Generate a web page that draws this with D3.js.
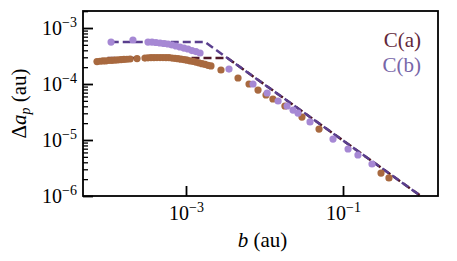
<!DOCTYPE html>
<html>
<head>
<meta charset="utf-8">
<script src="https://cdn.jsdelivr.net/npm/d3@7"></script>
<style>
  body { margin: 0; background: #fff; }
  svg text { font-family: "Liberation Serif", "DejaVu Serif", serif; }
</style>
</head>
<body>
<div id="chart"></div>
<script>
// C(a) measured points
var bA = [7.35e-5, 8.03e-5, 8.76e-5, 9.57e-5, 1.045e-4, 1.14e-4, 1.25e-4, 1.36e-4, 1.49e-4, 1.62e-4,
  1.77e-4, 1.94e-4, 2.38e-4, 3.00e-4, 3.28e-4, 3.58e-4, 3.91e-4, 4.27e-4, 4.67e-4, 5.09e-4,
  5.56e-4, 6.07e-4, 6.63e-4, 7.24e-4, 7.91e-4, 8.64e-4, 9.43e-4, 1.03e-3, 1.12e-3, 1.23e-3,
  1.34e-3, 1.46e-3, 1.60e-3, 1.75e-3, 1.91e-3, 2.08e-3, 2.79e-3, 4.60e-3, 6.35e-3, 8.27e-3,
  1.045e-2, 1.28e-2, 1.82e-2, 3.00e-2, 4.95e-2, 0.305, 0.385];
var daA = [2.52e-4, 2.55e-4, 2.58e-4, 2.60e-4, 2.63e-4, 2.65e-4, 2.68e-4, 2.70e-4, 2.73e-4, 2.75e-4,
  2.77e-4, 2.80e-4, 2.85e-4, 2.91e-4, 2.94e-4, 2.95e-4, 2.96e-4, 2.97e-4, 2.97e-4, 2.97e-4,
  2.96e-4, 2.95e-4, 2.91e-4, 2.88e-4, 2.83e-4, 2.78e-4, 2.73e-4, 2.66e-4, 2.60e-4, 2.53e-4,
  2.47e-4, 2.39e-4, 2.31e-4, 2.24e-4, 2.16e-4, 2.10e-4, 1.78e-4, 1.28e-4, 1.00e-4, 7.81e-5,
  6.36e-5, 5.40e-5, 4.05e-5, 2.57e-5, 1.57e-5, 2.57e-6, 2.10e-6];

// C(b) measured points
var bB = [1.11e-4, 2.11e-4, 3.28e-4, 3.69e-4, 4.15e-4, 4.67e-4, 5.25e-4, 5.90e-4, 6.63e-4, 7.46e-4,
  8.39e-4, 9.43e-4, 1.06e-3, 1.19e-3, 1.34e-3, 1.51e-3, 3.53e-3, 7.14e-3, 1.08e-2, 1.49e-2,
  1.94e-2, 2.31e-2, 2.67e-2, 3.80e-2, 7.46e-2, 0.116, 0.155, 0.234];
var daB = [5.62e-4, 6.11e-4, 5.62e-4, 5.62e-4, 5.51e-4, 5.40e-4, 5.29e-4, 5.18e-4, 4.97e-4, 4.77e-4,
  4.58e-4, 4.39e-4, 4.22e-4, 3.96e-4, 3.80e-4, 3.58e-4, 1.85e-4, 1.00e-4, 6.91e-5, 4.97e-5,
  4.05e-5, 3.43e-5, 3.03e-5, 2.10e-5, 1.04e-5, 6.91e-6, 5.40e-6, 3.73e-6];

// broken power-law models
var modelAb = [1e-4, 3.37e-3, 1];
var modelAda = [2.91e-4, 2.91e-4, 9.8e-7];
var modelBb = [1.1e-4, 1.75e-3, 1];
var modelBda = [5.6e-4, 5.6e-4, 9.8e-7];

var yMajor = [1e-6, 1e-5, 1e-4, 1e-3];
var yMajorExp = ["\u22126", "\u22125", "\u22124", "\u22123"];
var xMajor = [1e-3, 1e-1];
var xMajorExp = ["\u22123", "\u22121"];
var legendNames = ["C(a)", "C(b)"];

var W = 457, H = 261;
var margin = {top: 11, right: 19, bottom: 65, left: 83};

var svg = d3.select("#chart").append("svg")
  .attr("width", W).attr("height", H);

var x = d3.scaleLog()
  .domain([Math.pow(10, -4.312), Math.pow(10, 0.21)])
  .range([margin.left, W - margin.right]);
var y = d3.scaleLog()
  .domain([1e-6, Math.pow(10, -2.696)])
  .range([H - margin.bottom, margin.top]);

svg.append("clipPath").attr("id", "plotclip")
  .append("rect")
  .attr("x", margin.left).attr("y", margin.top)
  .attr("width", W - margin.left - margin.right)
  .attr("height", H - margin.top - margin.bottom);

var plot = svg.append("g").attr("clip-path", "url(#plotclip)");

var line = d3.line()
  .x(function(d) { return x(d[0]); })
  .y(function(d) { return y(d[1]); });

plot.append("path")
  .datum(d3.zip(modelAb, modelAda))
  .attr("d", line)
  .attr("fill", "none")
  .attr("stroke", "#4f1727")
  .attr("stroke-width", 2.5)
  .attr("stroke-dasharray", "8,4");

plot.append("path")
  .datum(d3.zip(modelBb, modelBda))
  .attr("d", line)
  .attr("fill", "none")
  .attr("stroke", "#5a3f8e")
  .attr("stroke-width", 2.5)
  .attr("stroke-dasharray", "8,4");

plot.selectAll(".dotA")
  .data(d3.zip(bA, daA))
  .enter().append("circle")
  .attr("class", "dotA")
  .attr("cx", function(d) { return x(d[0]); })
  .attr("cy", function(d) { return y(d[1]); })
  .attr("r", 3.6)
  .attr("fill", "#a8693f");

plot.selectAll(".dotB")
  .data(d3.zip(bB, daB))
  .enter().append("circle")
  .attr("class", "dotB")
  .attr("cx", function(d) { return x(d[0]); })
  .attr("cy", function(d) { return y(d[1]); })
  .attr("r", 3.6)
  .attr("fill", "#a688d4");

// minor y ticks
var yMinor = [];
[1e-6, 1e-5, 1e-4, 1e-3].forEach(function(p) {
  for (var k = 2; k <= 9; k++) {
    if (p * k <= y.domain()[1]) yMinor.push(p * k);
  }
});

svg.append("g")
  .attr("transform", "translate(" + margin.left + ",0)")
  .call(d3.axisLeft(y).tickValues(yMinor).tickSize(-5).tickFormat(""))
  .call(function(g) { g.select(".domain").remove(); })
  .selectAll("line").attr("stroke", "#000").attr("stroke-width", 1.3);

var yAxisG = svg.append("g")
  .attr("transform", "translate(" + margin.left + ",0)")
  .call(d3.axisLeft(y).tickValues(yMajor).tickSize(-10).tickPadding(6));
yAxisG.select(".domain").remove();
yAxisG.selectAll("line").attr("stroke", "#000").attr("stroke-width", 1.8);

var xAxisG = svg.append("g")
  .attr("transform", "translate(0," + (H - margin.bottom) + ")")
  .call(d3.axisBottom(x).tickValues(xMajor).tickSize(-10).tickPadding(10));
xAxisG.select(".domain").remove();
xAxisG.selectAll("line").attr("stroke", "#000").attr("stroke-width", 1.8);

function powerLabel(sel, exps, vals) {
  sel.selectAll(".tick text").each(function(d) {
    var t = d3.select(this).text(null)
      .attr("font-family", "'Liberation Serif', serif")
      .attr("font-size", 20)
      .attr("fill", "#000");
    t.append("tspan").text("10");
    t.append("tspan").attr("font-size", 14).attr("dy", -8)
      .text(exps[vals.indexOf(d)]);
  });
}
powerLabel(yAxisG, yMajorExp, yMajor);
powerLabel(xAxisG, xMajorExp, xMajor);

// frame
svg.append("rect")
  .attr("x", margin.left).attr("y", margin.top)
  .attr("width", W - margin.left - margin.right)
  .attr("height", H - margin.top - margin.bottom)
  .attr("fill", "none")
  .attr("stroke", "#000")
  .attr("stroke-width", 1.8);

// axis labels
var xl = svg.append("text")
  .attr("x", (margin.left + W - margin.right) / 2 + 2)
  .attr("y", 247)
  .attr("text-anchor", "middle")
  .attr("font-size", 21);
xl.append("tspan").attr("font-style", "italic").text("b");
xl.append("tspan").text(" (au)");

var yl = svg.append("text")
  .attr("transform", "translate(26," + ((margin.top + H - margin.bottom) / 2) + ") rotate(-90)")
  .attr("text-anchor", "middle")
  .attr("font-size", 21);
yl.append("tspan").text("\u0394");
yl.append("tspan").attr("font-style", "italic").text("a");
yl.append("tspan").attr("font-style", "italic").attr("font-size", 14).attr("dy", 4).text("p");
yl.append("tspan").attr("dy", -4).text(" (au)");

// legend (text only)
var legendColors = ["#62283a", "#7766a8"];
svg.selectAll(".legend")
  .data(legendNames)
  .enter().append("text")
  .attr("class", "legend")
  .attr("x", 421)
  .attr("y", function(d, i) { return 47 + i * 25; })
  .attr("text-anchor", "end")
  .attr("font-size", 21)
  .attr("fill", function(d, i) { return legendColors[i]; })
  .text(function(d) { return d; });
</script>
</body>
</html>
